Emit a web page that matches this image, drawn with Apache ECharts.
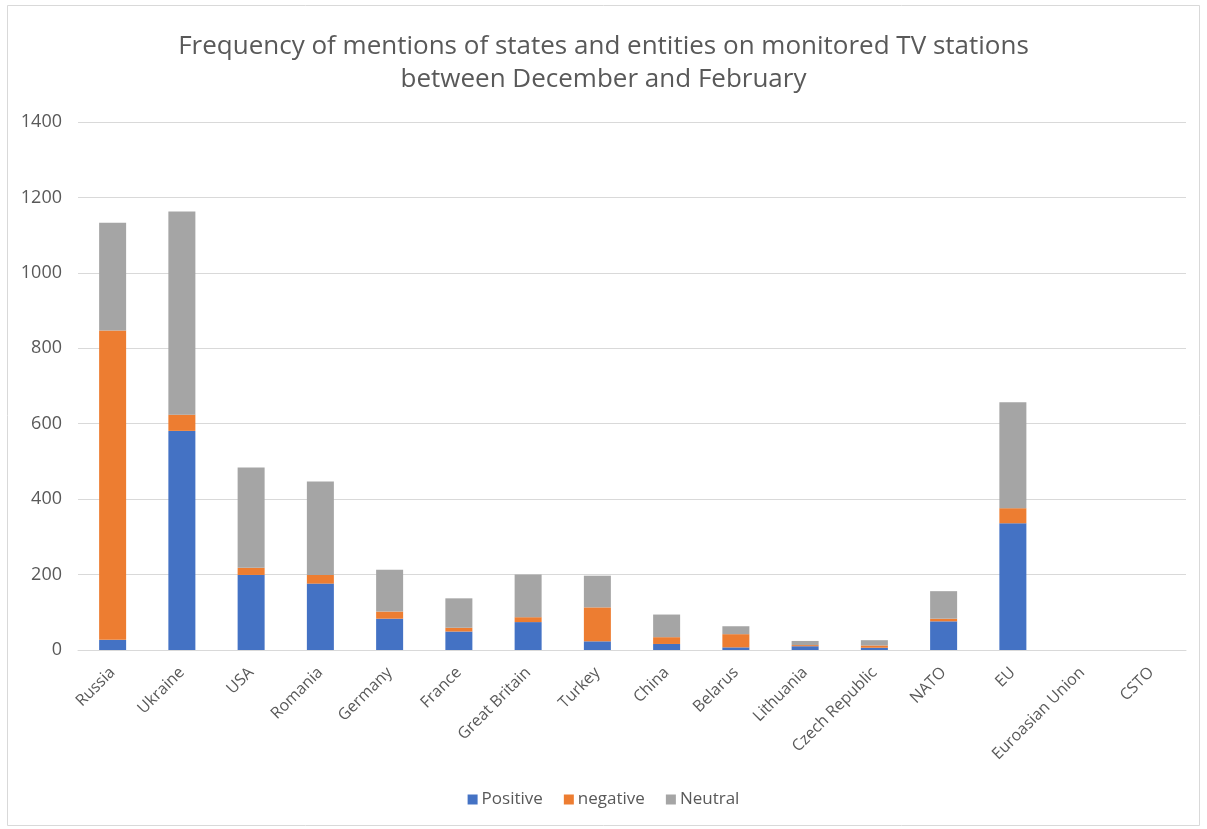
<!DOCTYPE html>
<html>
<head>
<meta charset="utf-8">
<script src="https://cdn.jsdelivr.net/npm/echarts@6/dist/echarts.min.js"></script>
<style>
  html, body { margin: 0; padding: 0; background: #fff; }
  #chart { width: 1207px; height: 829px; }
</style>
</head>
<body>
<div id="chart"></div>
<script>
// Mentions per state / entity, split by tone
const categories = ['Russia', 'Ukraine', 'USA', 'Romania', 'Germany', 'France', 'Great Britain', 'Turkey',
  'China', 'Belarus', 'Lithuania', 'Czech Republic', 'NATO', 'EU', 'Euroasian Union', 'CSTO'];
const positive = [27, 581, 199, 176, 83, 49, 74, 23, 16, 7, 10, 6, 76, 336, 0, 0];
const negative = [820, 43, 19, 23, 19, 10, 13, 90, 18, 35, 3, 6, 7, 40, 0, 0];
const neutral  = [286, 539, 266, 248, 111, 78, 113, 84, 60, 21, 11, 14, 73, 281, 0, 0];

const FONT = '"Open Sans", "Noto Sans", sans-serif';
const TEXT = '#595959';

const chart = echarts.init(document.getElementById('chart'), null, { renderer: 'canvas' });

const barCommon = { type: 'bar', stack: 'total', barWidth: '39%' };

chart.setOption({
  animation: false,
  backgroundColor: '#ffffff',
  title: {
    text: 'Frequency of mentions of states and entities on monitored TV stations\nbetween December and February',
    left: 'center',
    top: 25,
    textStyle: { fontFamily: FONT, fontSize: 26, fontWeight: 'normal', color: TEXT, lineHeight: 33 }
  },
  legend: {
    bottom: 16,
    left: 'center',
    itemWidth: 10,
    itemHeight: 10,
    itemGap: 21,
    icon: 'rect',
    textStyle: { fontFamily: FONT, fontSize: 17, color: TEXT, padding: [0, 0, 0, -1] },
    data: ['Positive', 'negative', 'Neutral']
  },
  grid: { left: 78, right: 21, top: 122, bottom: 179, containLabel: false },
  xAxis: {
    type: 'category',
    data: categories,
    axisLine: { lineStyle: { color: '#d9d9d9', width: 1 } },
    axisTick: { show: false },
    axisLabel: { rotate: 45, fontFamily: FONT, fontSize: 16, color: TEXT, margin: 20, interval: 0 }
  },
  yAxis: {
    type: 'value',
    min: 0,
    max: 1400,
    interval: 200,
    axisLine: { show: false },
    axisTick: { show: false },
    axisLabel: { fontFamily: FONT, fontSize: 18, color: TEXT, margin: 16, formatter: v => String(v) },
    splitLine: { lineStyle: { color: '#d9d9d9', width: 1 } }
  },
  series: [
    Object.assign({ name: 'Positive', data: positive, itemStyle: { color: '#4472c4' } }, barCommon),
    Object.assign({ name: 'negative', data: negative, itemStyle: { color: '#ed7d31' } }, barCommon),
    Object.assign({ name: 'Neutral', data: neutral, itemStyle: { color: '#a5a5a5' } }, barCommon)
  ],
  graphic: [{
    type: 'rect',
    shape: { x: 7.5, y: 5.5, width: 1192, height: 820 },
    style: { fill: 'none', stroke: '#d9d9d9', lineWidth: 1 },
    silent: true
  }]
});
</script>
</body>
</html>
